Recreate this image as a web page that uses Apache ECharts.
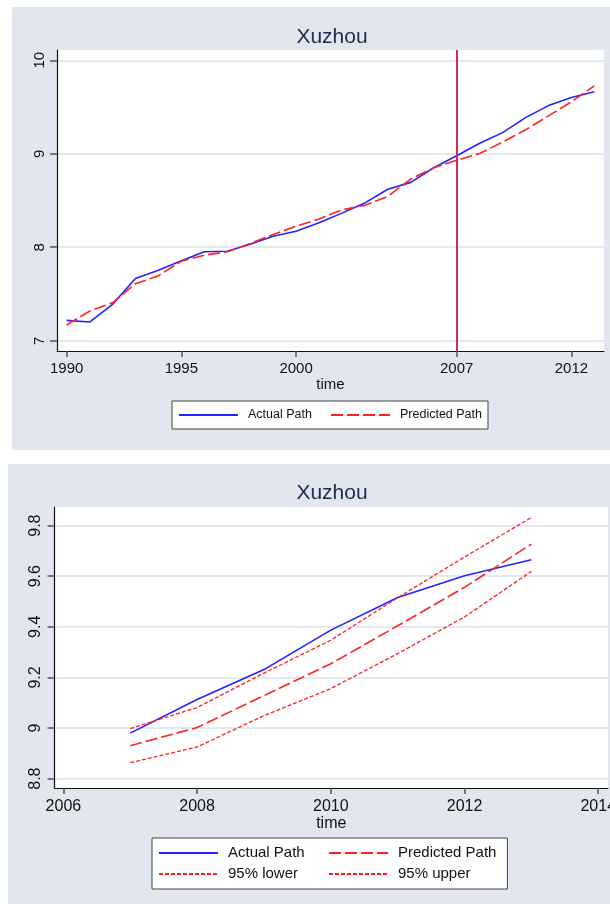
<!DOCTYPE html>
<html>
<head>
<meta charset="utf-8">
<style>
html,body{margin:0;padding:0;background:#fff;}
#chart{width:610px;height:904px;}
</style>
<script src="https://cdn.jsdelivr.net/npm/echarts@6/dist/echarts.min.js"></script>
</head>
<body>
<div id="chart"></div>
<script>
// ---- data ----
var titleText = 'Xuzhou';
var xAxisName = 'time';

var topYears = [1990,1991,1992,1993,1994,1995,1996,1997,1998,1999,2000,2001,2002,2003,2004,2005,2006,2007,2008,2009,2010,2011,2012,2013];
var topActual = [7.218,7.200,7.389,7.666,7.755,7.855,7.951,7.957,8.032,8.117,8.171,8.262,8.365,8.474,8.620,8.694,8.850,8.978,9.112,9.226,9.387,9.515,9.601,9.664];
var topPredicted = [7.168,7.317,7.406,7.609,7.695,7.850,7.915,7.951,8.040,8.136,8.224,8.303,8.400,8.448,8.544,8.730,8.850,8.930,9.003,9.125,9.256,9.405,9.556,9.727];
var topXTicks = [1990,1995,2000,2007,2012];
var topYTicks = [7,8,9,10];
var cutoffYear = 2007;

var botYears = [2007,2008,2009,2010,2011,2012,2013];
var botActual = [8.980,9.113,9.231,9.387,9.516,9.602,9.665];
var botPredicted = [8.930,9.002,9.128,9.254,9.404,9.556,9.727];
var botLower = [8.863,8.925,9.049,9.156,9.294,9.439,9.619];
var botUpper = [8.998,9.081,9.217,9.347,9.515,9.676,9.832];
var botXTicks = [2006,2008,2010,2012,2014];
var botYTicks = [8.8,9,9.2,9.4,9.6,9.8];

var names = ['Actual Path','Predicted Path','95% lower','95% upper'];

function pairs(xs, ys){ return xs.map(function(x,i){ return [x, ys[i]]; }); }

// ---- style ----
var FONT = '"Liberation Sans", Arial, sans-serif';
var PANEL = '#e1e6ef';
var GRIDC = '#dde3ed';
var BLUE = '#2222ff';
var RED = '#ff2222';
var LONGDASH = [12,4];
var SHORTDASH = [4,2];

function xAxisCfg(idx, min, max, ticks, fs, margin, gap){
  return {
    type:'value', gridIndex: idx, min:min, max:max,
    name: xAxisName, nameLocation:'middle', nameGap: gap,
    nameTextStyle:{fontFamily:FONT,fontSize:fs,color:'#111'},
    axisLine:{show:true,onZero:false,lineStyle:{color:'#111',width:1.2}},
    axisTick:{show:true,length:6,customValues:ticks,lineStyle:{color:'#555',width:1.5}},
    axisLabel:{show:true,customValues:ticks,margin:margin,fontFamily:FONT,fontSize:fs,color:'#111',
      hideOverlap:false,
      formatter:function(v){return String(v);}},
    splitLine:{show:false}
  };
}
function yAxisCfg(idx, min, max, ticks, fs, margin){
  return {
    type:'value', gridIndex: idx, min:min, max:max,
    axisLine:{show:true,onZero:false,lineStyle:{color:'#111',width:1.2}},
    axisTick:{show:true,length:7,customValues:ticks,lineStyle:{color:'#555',width:1.5}},
    axisLabel:{show:true,customValues:ticks,rotate:90,margin:margin,fontFamily:FONT,fontSize:fs,color:'#111',
      formatter:function(v){return String(Math.round(v*10)/10);}},
    splitLine:{show:true,lineStyle:{color:GRIDC,width:1.5}}
  };
}
function lineSeries(name, xi, yi, data, color, type, width){
  return {
    name:name, type:'line', xAxisIndex:xi, yAxisIndex:yi, data:data,
    showSymbol:false, symbol:'none', smooth:false, animation:false,
    lineStyle:{color:color,width:width||1.6,type:type},
    itemStyle:{color:color}
  };
}

var topSeries = [
  lineSeries(names[0],0,0,pairs(topYears,topActual),BLUE,'solid'),
  lineSeries(names[1],0,0,pairs(topYears,topPredicted),RED,LONGDASH)
];
topSeries[0].markLine = {
  silent:true, symbol:['none','none'], animation:false,
  label:{show:false},
  lineStyle:{color:'#c8325a',width:2,type:'solid'},
  data:[{xAxis:cutoffYear}]
};
var botSeries = [
  lineSeries(names[0],1,1,pairs(botYears,botActual),BLUE,'solid'),
  lineSeries(names[1],1,1,pairs(botYears,botPredicted),RED,LONGDASH),
  lineSeries(names[2],1,1,pairs(botYears,botLower),RED,SHORTDASH,1.3),
  lineSeries(names[3],1,1,pairs(botYears,botUpper),RED,SHORTDASH,1.3)
];

function legendLabel(n){ return '{a|' + n + '}'; }

var chart = echarts.init(document.getElementById('chart'), null, {renderer:'canvas'});
chart.setOption({
  animation:false,
  backgroundColor:'#ffffff',
  graphic:[
    {type:'rect',z:-100,silent:true,shape:{x:12,y:7,width:598,height:443},style:{fill:PANEL}},
    {type:'rect',z:-100,silent:true,shape:{x:8,y:464,width:602,height:440},style:{fill:PANEL}},
    {type:'text',z:10,silent:true,x:332,y:37,style:{text:titleText,fontFamily:FONT,fontSize:21,fill:'#1e2b4d',align:'center',verticalAlign:'middle'}},
    {type:'text',z:10,silent:true,x:332,y:493,style:{text:titleText,fontFamily:FONT,fontSize:21,fill:'#1e2b4d',align:'center',verticalAlign:'middle'}}
  ],
  grid:[
    {left:57,top:50,width:547,height:301,show:true,backgroundColor:'#ffffff',borderWidth:0,outerBoundsMode:'none',containLabel:false},
    {left:54.5,top:507,width:553.5,height:281,show:true,backgroundColor:'#ffffff',borderWidth:0,outerBoundsMode:'none',containLabel:false}
  ],
  xAxis:[
    xAxisCfg(0,1989.58,2013.42,topXTicks,15,10,24),
    xAxisCfg(1,2005.867,2014.146,botXTicks,16,11,25)
  ],
  yAxis:[
    yAxisCfg(0,6.89,10.11,topYTicks,15,10),
    yAxisCfg(1,8.763,9.8735,botYTicks,16,11)
  ],
  legend:[
    {
      data:[names[0],names[1]], left:172, top:401, orient:'horizontal',
      padding:[7,6,7,6], itemGap:4, itemWidth:59, itemHeight:14,
      backgroundColor:'#ffffff', borderColor:'#444', borderWidth:1, borderRadius:0,
      selectedMode:false,
      itemStyle:{opacity:0},
      formatter: legendLabel,
      textStyle:{fontFamily:FONT,fontSize:12.5,color:'#111',padding:[0,0,0,5],
        rich:{a:{fontFamily:FONT,fontSize:12.5,color:'#111',width:78,height:14,lineHeight:14}}}
    },
    {
      data:names.slice(), left:152, top:838, orient:'horizontal', width:345,
      padding:[6.5,11,6.5,6], itemGap:4, itemWidth:59, itemHeight:17,
      backgroundColor:'#ffffff', borderColor:'#444', borderWidth:1, borderRadius:0,
      selectedMode:false,
      itemStyle:{opacity:0},
      formatter: legendLabel,
      textStyle:{fontFamily:FONT,fontSize:15,color:'#111',padding:[0,0,0,5],
        rich:{a:{fontFamily:FONT,fontSize:15,color:'#111',width:96,height:17,lineHeight:17}}}
    }
  ],
  series: topSeries.concat(botSeries)
});
</script>
</body>
</html>
